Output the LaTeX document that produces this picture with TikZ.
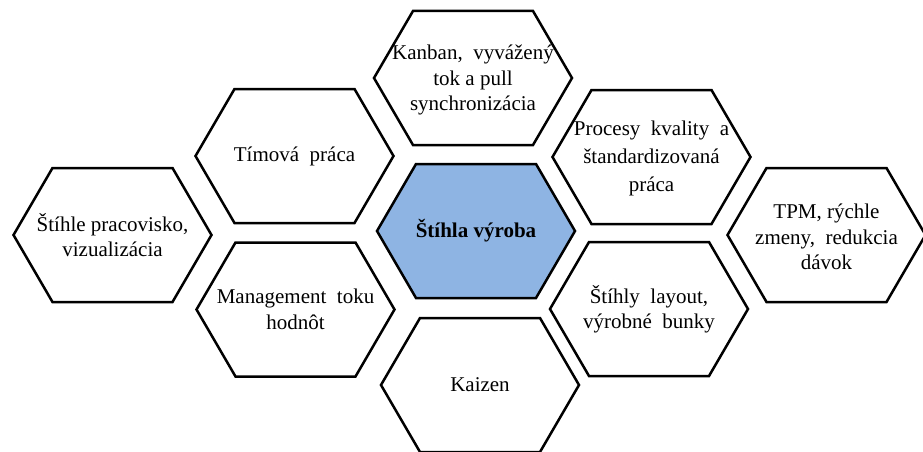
\documentclass[tikz,border=0pt]{standalone}
\usepackage{fontspec}
\setmainfont{Liberation Serif}
\newfontfamily\tnr{Liberation Serif}
\usetikzlibrary{backgrounds}
\definecolor{hexblue}{RGB}{142,180,227}
\tikzset{
  lbl/.style={align=center, inner sep=0pt, font=\tnr\fontsize{21}{25.5}\selectfont},
  hexline/.style={draw=black, line width=2.5pt, line join=miter},
}
\newcommand{\hexpath}[1]{([shift={(-99,0)}]#1.center) -- ([shift={(-60,-67)}]#1.center) -- ([shift={(60,-67)}]#1.center) -- ([shift={(99,0)}]#1.center) -- ([shift={(60,67)}]#1.center) -- ([shift={(-60,67)}]#1.center) -- cycle}
\begin{document}
\begin{tikzpicture}[x=1pt,y=-1pt]
\useasboundingbox (0,0) rectangle (923,452);
\coordinate (kanbanc) at (473,78);
\node[lbl] (kanban) at (473,80) {Kanban,\ \ vyvážený\\tok a pull\\synchronizácia};
\node[lbl] (timova) at (294.5,156) {Tímová\ \ práca};
\node[lbl] (pracovisko) at (112.5,235) {Štíhle pracovisko,\\vizualizácia};
\node[lbl, font=\tnr\fontsize{21}{25.5}\selectfont\bfseries] (center) at (476,231) {Štíhla výroba};
\coordinate (procesyc) at (651.5,157);
\node[lbl, font=\tnr\fontsize{21}{28}\selectfont] (procesy) at (651.5,158) {Procesy\ \ kvality\ \ a\\štandardizovaná\\práca};
\coordinate (tpmc) at (826.5,235);
\node[lbl] (tpm) at (826.5,237) {TPM, rýchle\\zmeny,\ \ redukcia\\dávok};
\node[lbl] (management) at (295.5,309.5) {Management\ \ toku\\hodnôt};
\node[lbl] (layout) at (649,309) {Štíhly\ \ layout,\\výrobné\ \ bunky};
\node[lbl] (kaizen) at (480,385) {Kaizen};
\begin{scope}[on background layer]
  \fill[hexblue] \hexpath{center};
  \foreach \n in {kanbanc,timova,pracovisko,center,procesyc,tpmc,management,layout,kaizen}
    \draw[hexline] \hexpath{\n};
\end{scope}
\end{tikzpicture}
\end{document}
